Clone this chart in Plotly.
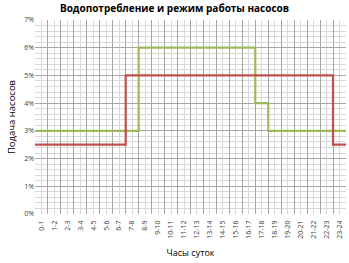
import plotly.graph_objects as go

hours = [f"{i}-{i+1}" for i in range(24)]
pump_red = [2.5]*7 + [5.0]*16 + [2.5]
pump_green = [3.0]*8 + [6.0]*9 + [4.0] + [3.0]*6

x_edges = list(range(25))
red_y = [v/100 for v in pump_red] + [pump_red[-1]/100]
green_y = [v/100 for v in pump_green] + [pump_green[-1]/100]

fig = go.Figure()
# invisible trace to hold the grid axis
fig.add_trace(go.Scatter(x=[0, 24], y=[0, 0], mode="lines", line=dict(width=0),
                         hoverinfo="skip", showlegend=False, xaxis="x2", yaxis="y"))
fig.add_trace(go.Scatter(x=x_edges, y=green_y, mode="lines", line_shape="hv",
                         line=dict(color="#9BBB59", width=2.2), showlegend=False, xaxis="x"))
fig.add_trace(go.Scatter(x=x_edges, y=red_y, mode="lines", line_shape="hv",
                         line=dict(color="#C0504D", width=2.2), showlegend=False, xaxis="x"))

fig.update_layout(
    width=349, height=263,
    margin=dict(l=35, r=3, t=20, b=49),
    paper_bgcolor="white", plot_bgcolor="white",
    title=dict(text="<b>Водопотребление и режим работы насосов</b>", x=0.5, xanchor="center",
               y=0.98, yanchor="top", font=dict(family="Open Sans", size=10, color="#000")),
    xaxis=dict(range=[0, 24], tickmode="array", tickvals=[i+0.5 for i in range(24)],
               ticktext=hours, tickangle=-90, showgrid=False, zeroline=False,
               ticks="", ticklabelstandoff=4,
               tickfont=dict(family="Open Sans", size=7, color="#404040"),
               title=dict(text="Часы суток", font=dict(family="Open Sans", size=9, color="#000"),
                          standoff=12)),
    xaxis2=dict(range=[0, 24], overlaying="x", tickmode="linear", tick0=0, dtick=1,
                showticklabels=False, showgrid=True, gridcolor="#A6A6A6", gridwidth=1,
                minor=dict(tick0=0, dtick=0.5, showgrid=True, gridcolor="#D9D9D9"),
                zeroline=False, ticks=""),
    yaxis=dict(range=[0, 0.07], tickmode="linear", tick0=0, dtick=0.01, tickformat=".0%",
               showgrid=True, gridcolor="#A6A6A6", gridwidth=1,
               minor=dict(tick0=0, dtick=0.002, showgrid=True, gridcolor="#D9D9D9"),
               zeroline=False, ticks="", tickfont=dict(family="Open Sans", size=7, color="#404040"),
               title=dict(text="Подача насосов", font=dict(family="Open Sans", size=9.5, color="#000"),
                          standoff=6)),
)

fig.write_html("out.html")
